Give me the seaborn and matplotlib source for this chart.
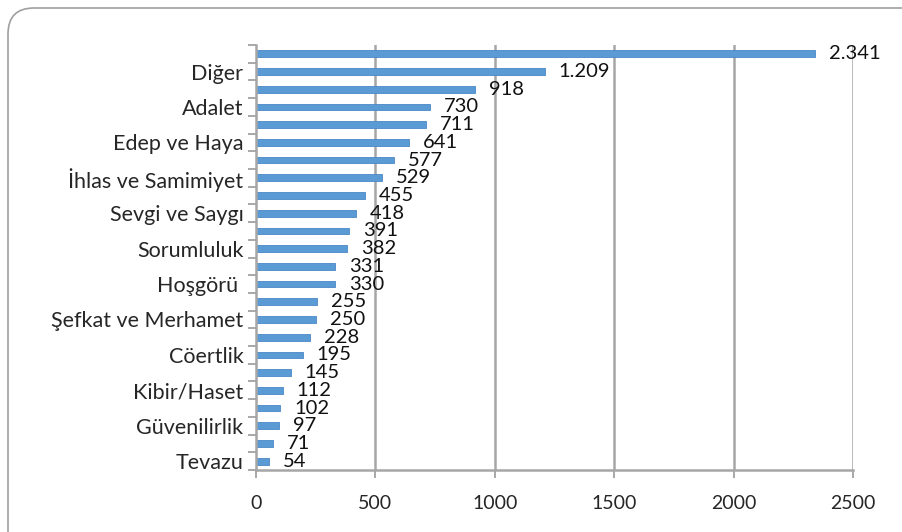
import matplotlib
matplotlib.use("Agg")
import matplotlib.pyplot as plt
from matplotlib.patches import FancyBboxPatch
from matplotlib.transforms import IdentityTransform
import seaborn as sns
import pandas as pd

# data, top to bottom (only every second category name is shown on the axis)
labels = ["", "Diğer", "", "Adalet", "", "Edep ve Haya", "", "İhlas ve Samimiyet",
          "", "Sevgi ve Saygı", "", "Sorumluluk", "", "Hoşgörü ", "", "Şefkat ve Merhamet",
          "", "Cöertlik", "", "Kibir/Haset", "", "Güvenilirlik", "", "Tevazu"]
values = [2341, 1209, 918, 730, 711, 641, 577, 529, 455, 418, 391, 382,
          331, 330, 255, 250, 228, 195, 145, 112, 102, 97, 71, 54]
xticks = [0, 500, 1000, 1500, 2000, 2500]

df = pd.DataFrame({"pos": range(len(values)), "value": values})

sns.set_style("white")
plt.rcParams["font.family"] = ["Lato", "DejaVu Sans"]

W, H = 903, 532
fig = plt.figure(figsize=(W / 100, H / 100), dpi=100)
ax = fig.add_axes([256 / W, 1 - 470 / H, (853 - 256) / W, (470 - 45) / H])

# rounded outer frame, runs off the right and bottom edge like the original
frame = FancyBboxPatch((8, -30), W + 40, H - 8 + 30,
                       boxstyle="round,pad=0,rounding_size=26",
                       transform=IdentityTransform(), fill=False,
                       edgecolor="#a0a0a0", linewidth=1.2)
fig.patches.append(frame)

sns.barplot(data=df, x="value", y="pos", orient="h", color="#5b9bd5",
            width=0.38, saturation=1, ax=ax, edgecolor="#4a88c6", linewidth=0.6)

ax.set_xlim(0, 2500)
ax.set_ylim(len(values) - 0.5, -0.5)
ax.set_xticks(xticks)
ax.set_xticklabels([str(t) for t in xticks], fontsize=14)
ax.set_xlabel("")
ax.set_ylabel("")

# major y ticks = category boundaries (marks only), minor = names
ax.set_yticks([i + 0.5 for i in range(-1, len(values))])
ax.set_yticklabels([])
ax.set_yticks(range(len(labels)), minor=True)
ax.set_yticklabels(labels, minor=True, fontsize=15.5)

for t in xticks[1:]:
    ax.axvline(t, color="#a6a6a6", linewidth=1.8, zorder=0)

for side in ["top", "right"]:
    ax.spines[side].set_visible(False)
for side in ["left", "bottom"]:
    ax.spines[side].set_color("#a6a6a6")
    ax.spines[side].set_linewidth(1.8)

ax.tick_params(axis="y", which="major", left=True, length=6, color="#9a9a9a",
               width=1.2, direction="out")
ax.tick_params(axis="y", which="minor", left=False, length=0, pad=9)
ax.tick_params(axis="x", bottom=True, length=6, color="#9a9a9a", width=1.2,
               pad=12, direction="out")

def fmt(v):
    return f"{v:,}".replace(",", ".")

ax.bar_label(ax.containers[0], labels=[fmt(v) for v in values],
             padding=10, fontsize=14.5, color="#111111")

fig.savefig("out.png", dpi=100)
